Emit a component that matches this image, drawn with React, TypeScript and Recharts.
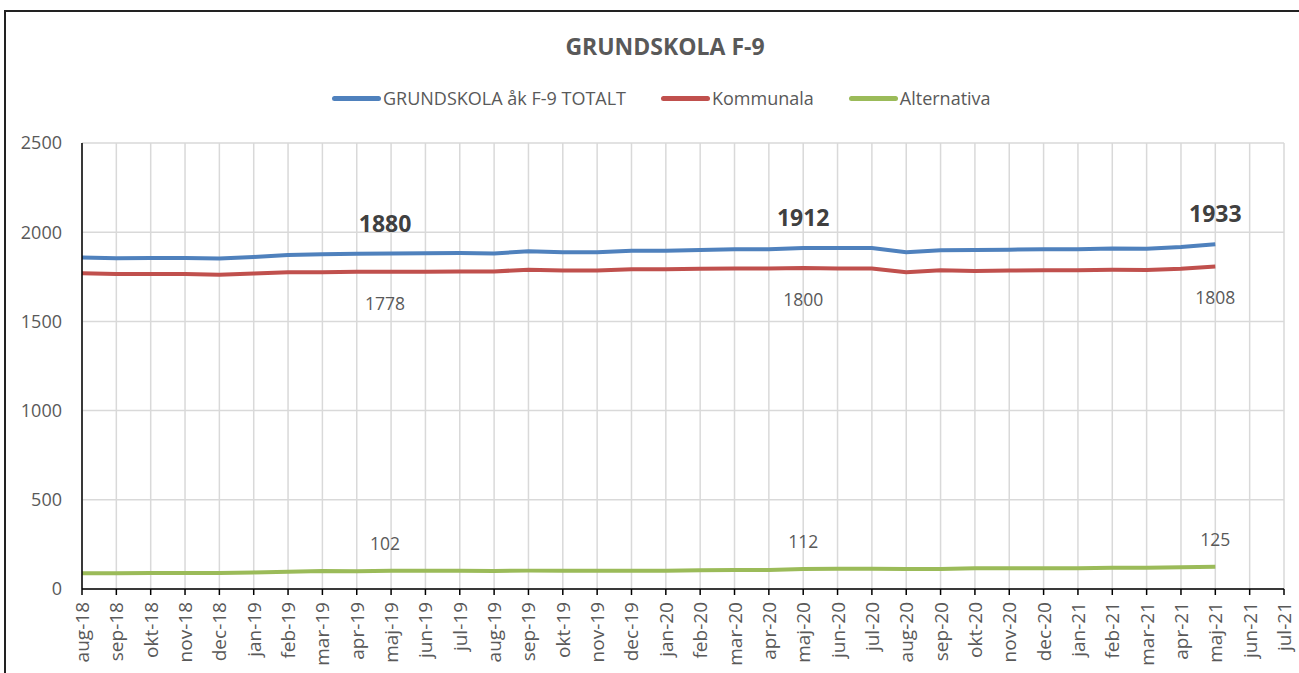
import React from "react";
import { LineChart, Line, XAxis, YAxis, CartesianGrid } from "recharts";

const months = [
  "aug-18", "sep-18", "okt-18", "nov-18", "dec-18", "jan-19", "feb-19", "mar-19", "apr-19", "maj-19",
  "jun-19", "jul-19", "aug-19", "sep-19", "okt-19", "nov-19", "dec-19", "jan-20", "feb-20", "mar-20",
  "apr-20", "maj-20", "jun-20", "jul-20", "aug-20", "sep-20", "okt-20", "nov-20", "dec-20", "jan-21",
  "feb-21", "mar-21", "apr-21", "maj-21", "jun-21", "jul-21",
];

const totalt = [
  1858, 1854, 1856, 1856, 1852, 1861, 1872, 1877, 1879, 1880, 1882, 1883, 1881, 1893, 1888, 1888, 1896,
  1896, 1900, 1904, 1904, 1912, 1911, 1911, 1887, 1899, 1900, 1902, 1904, 1904, 1908, 1907, 1917, 1933,
];
const kommunala = [
  1770, 1766, 1766, 1766, 1762, 1768, 1775, 1776, 1779, 1778, 1779, 1780, 1780, 1790, 1785, 1785, 1793,
  1793, 1795, 1797, 1797, 1800, 1797, 1797, 1775, 1787, 1783, 1785, 1787, 1787, 1789, 1788, 1795, 1808,
];
const alternativa = [
  88, 88, 90, 90, 90, 93, 97, 101, 100, 102, 103, 103, 101, 103, 103, 103, 103, 103, 105, 107, 107, 112,
  114, 114, 112, 112, 117, 117, 117, 117, 119, 119, 122, 125,
];

// months that carry a data label
const labelled = ["maj-19", "maj-20", "maj-21"];
const yTicks = [0, 500, 1000, 1500, 2000, 2500];

const series = [
  { key: "totalt", name: "GRUNDSKOLA åk F-9 TOTALT", color: "#4F81BD" },
  { key: "kommunala", name: "Kommunala", color: "#C0504D" },
  { key: "alternativa", name: "Alternativa", color: "#9BBB59" },
];

const data = months.map((m, i) => ({
  month: m,
  totalt: totalt[i],
  kommunala: kommunala[i],
  alternativa: alternativa[i],
}));

const FONT = "'Open Sans', sans-serif";
const GREY = "#595959";

const makeLabel = (dy: number, bold: boolean) => (props: any) => {
  const { x, y, value, index } = props;
  if (value == null || !labelled.includes(months[index])) return null;
  return (
    <text
      x={index === 9 ? x - 6 : x}
      y={y + dy}
      textAnchor="middle"
      dominantBaseline="central"
      fill={bold ? "#404040" : GREY}
      fontFamily={FONT}
      fontSize={bold ? 23 : 17.5}
      fontWeight={bold ? 700 : 400}
    >
      {value}
    </text>
  );
};

const MonthTick = (props: any) => {
  const { x, y, payload } = props;
  return (
    <text
      transform={`translate(${x},${y + 5}) rotate(-90)`}
      textAnchor="end"
      dominantBaseline="central"
      fill={GREY}
      fontFamily={FONT}
      fontSize={19}
    >
      {payload.value}
    </text>
  );
};

export default function App() {
  return (
    <div style={{ position: "absolute", left: 0, top: 0, width: 1299, height: 673, background: "#fff", overflow: "hidden" }}>
      <div
        style={{
          position: "absolute",
          left: 4,
          top: 10,
          width: 1310,
          height: 680,
          borderLeft: "2px solid #222",
          borderTop: "2px solid #222",
        }}
      />
      <div
        style={{
          position: "absolute",
          left: 0,
          width: 1330,
          top: 30,
          textAlign: "center",
          fontFamily: FONT,
          fontWeight: 700,
          fontSize: 23,
          lineHeight: "32px",
          color: GREY,
        }}
      >
        GRUNDSKOLA F-9
      </div>
      <div
        style={{
          position: "absolute",
          left: 332,
          top: 85,
          height: 26,
          display: "flex",
          gap: 35,
          fontFamily: FONT,
          fontSize: 18,
          lineHeight: "26px",
          color: GREY,
          whiteSpace: "nowrap",
        }}
      >
        {series.map((s) => (
          <div key={s.key} style={{ display: "flex", alignItems: "center" }}>
            <span style={{ display: "inline-block", width: 49, height: 5, borderRadius: 3, background: s.color, marginRight: 2 }} />
            {s.name}
          </div>
        ))}
      </div>
      <div style={{ position: "absolute", left: 0, top: 0 }}>
        <LineChart width={1299} height={673} data={data} margin={{ top: 143, right: 15, bottom: 4, left: 0 }}>
          <CartesianGrid stroke="#D9D9D9" strokeWidth={1.5} />
          <XAxis
            dataKey="month"
            interval={0}
            height={80}
            tick={<MonthTick />}
            axisLine={{ stroke: "#000", strokeWidth: 1.5 }}
            tickLine={{ stroke: "#000", strokeWidth: 1.5 }}
            tickSize={6}
          />
          <YAxis
            width={82}
            domain={[0, 2500]}
            ticks={yTicks}
            interval={0}
            tickLine={false}
            tickSize={0}
            tickMargin={20}
            axisLine={{ stroke: "#000", strokeWidth: 1.5 }}
            tick={{ fill: GREY, fontFamily: FONT, fontSize: 18 }}
          />
          <Line dataKey="totalt" stroke="#4F81BD" strokeWidth={4} dot={false} isAnimationActive={false} label={makeLabel(-31, true)} />
          <Line dataKey="kommunala" stroke="#C0504D" strokeWidth={4} dot={false} isAnimationActive={false} label={makeLabel(31, false)} />
          <Line dataKey="alternativa" stroke="#9BBB59" strokeWidth={4} dot={false} isAnimationActive={false} label={makeLabel(-28, false)} />
        </LineChart>
      </div>
    </div>
  );
}
